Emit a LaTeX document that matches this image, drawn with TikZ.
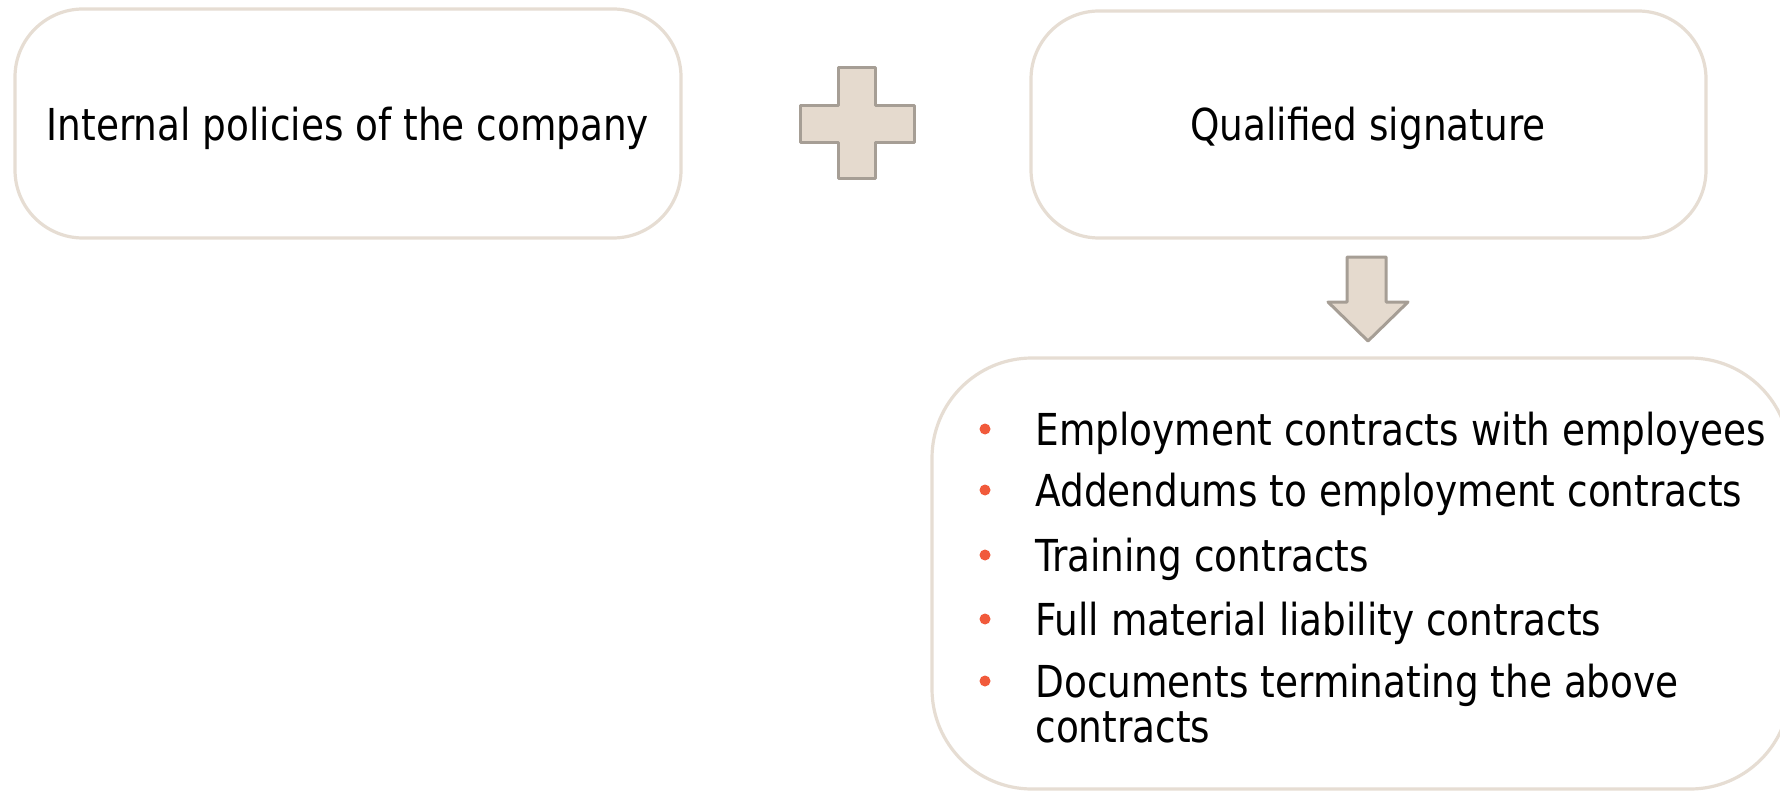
\documentclass[tikz,border=0pt]{standalone}
\usepackage{fontspec}
\setmainfont[FakeStretch=0.945]{DejaVu Sans Condensed}
\usetikzlibrary{positioning}
\definecolor{boxline}{HTML}{E6DDD3}
\definecolor{signfill}{HTML}{E5DACE}
\definecolor{signline}{HTML}{A69E95}
\definecolor{dotred}{HTML}{F15A3B}
\tikzset{
  roundbox/.style={draw=boxline,line width=1.6pt,rounded corners=34pt,fill=white},
  boxtext/.style={font=\fontsize{22}{26}\selectfont,inner sep=0pt,anchor=base},
  itemtext/.style={font=\fontsize{22}{22.5}\selectfont,inner sep=0pt,anchor=base west},
  sign/.style={fill=signfill,draw=signline,line width=1.5pt,line join=round}
}
\begin{document}
\begin{tikzpicture}[x=0.5pt,y=-0.5pt]
	\useasboundingbox (0,0) rectangle (1780,791);
	\clip (0,0) rectangle (1780,791);
	% top row
	\node[roundbox,minimum width=333pt,minimum height=114.5pt] (policies) at (348,123.5) {};
	\node[boxtext] (policiestext) at (348,141) {Internal policies of the company};
	\node[roundbox,minimum width=337.5pt,minimum height=113.5pt] (signature) at (1368.5,124.5) {};
	\node[boxtext] (signaturetext) at (1368,141) {Qualified signature};
	% plus sign
	\draw[sign] (838,68)--(875,68)--(875,106)--(914,106)--(914,143)--(875,143)--(875,179)
		--(838,179)--(838,143)--(800,143)--(800,106)--(838,106)--cycle;
	% down arrow
	\draw[sign] (1347,257)--(1386,257)--(1386,302)--(1408,302)--(1368,341)--(1328,302)--(1347,302)--cycle;
	% list box
	\node[roundbox,rounded corners=50pt,minimum width=429pt,minimum height=215.5pt] (contracts) at (1361,573.5) {};
	\foreach \y/\t [count=\i] in {445/Employment contracts with employees,
		506/Addendums to employment contracts,
		571/Training contracts,
		635/Full material liability contracts,
		697/Documents terminating the above}{
		\fill[dotred] (985,\y-16) circle (2.75pt);
		\node[itemtext] (item\i) at (1035,\y) {\t};
	}
	\node[itemtext] (item5more) at (1035,742) {contracts};
\end{tikzpicture}
\end{document}
